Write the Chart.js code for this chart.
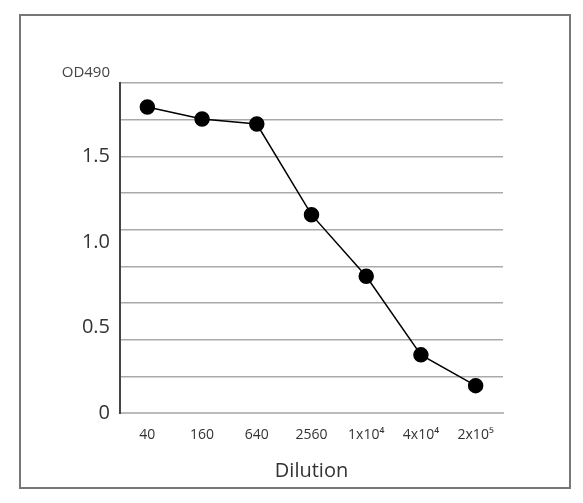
<!DOCTYPE html>
<html><head><meta charset="utf-8">
<script src="https://cdn.jsdelivr.net/npm/chart.js@4"></script>
<style>html,body{margin:0;padding:0;background:#fff}#w{width:583px;height:503px}</style>
</head><body><div id="w"><canvas id="c"></canvas></div>
<script>
const categories = ["40","160","640","2560","1x10⁴","4x10⁴","2x10⁵"];
const odValues = [1.79, 1.72, 1.69, 1.16, 0.80, 0.34, 0.16];
const yTickLabels = [0, 0.5, 1.0, 1.5];
const yMax = 1.93;
const gridCount = 9;

const frame = {
  id: 'frame',
  afterDraw(ch) {
    const c = ch.ctx;
    c.save();
    c.strokeStyle = '#777'; c.lineWidth = 2;
    c.strokeRect(20, 15, 550, 473);
    c.fillStyle = '#444'; c.font = '15px "Open Sans"';
    c.textAlign = 'right'; c.textBaseline = 'middle';
    c.fillText('OD490', 110, 73);
    c.restore();
  }
};

new Chart(document.getElementById('c'), {
  type: 'line',
  data: { labels: categories, datasets: [{
    data: odValues, borderColor: '#000', borderWidth: 1.5,
    pointRadius: 7, pointHoverRadius: 7, pointBackgroundColor: '#000', pointBorderColor: '#000',
    tension: 0
  }]},
  options: {
    responsive: true, maintainAspectRatio: false, animation: false,
    plugins: { legend: { display: false }, tooltip: { enabled: false } },
    layout: { padding: { top: 83, right: 80, left: 0, bottom: 20 } },
    scales: {
      x: {
        offset: true,
        grid: { display: false, drawTicks: false, offset: true },
        border: { color: '#bbb', width: 2 },
        ticks: { color: '#333', font: { family: 'Open Sans', size: 14 }, padding: 14, maxRotation: 0, autoSkip: false },
        title: { display: true, text: 'Dilution', color: '#333', font: { family: 'Open Sans', size: 20 }, padding: { top: 0, bottom: 0 } },
        afterFit(s) { s.height = 70; }
      },
      y: {
        min: 0, max: yMax,
        afterBuildTicks(s) { s.ticks = yTickLabels.map(v => ({ value: v })); },
        grid: { display: false, drawTicks: false },
        border: { color: '#444', width: 2 },
        ticks: { color: '#333', font: { family: 'Open Sans', size: 20 }, padding: 10,
          callback: v => v === 0 ? '0' : v.toFixed(1) },
        afterFit(s) { s.width = 120; }
      },
      y2: {
        position: 'left', min: 0, max: yMax,
        afterBuildTicks(s) { s.ticks = Array.from({ length: gridCount + 1 }, (_, i) => ({ value: yMax * i / gridCount })); },
        grid: { color: '#aaa', lineWidth: 1.5, drawTicks: false },
        border: { display: false },
        ticks: { display: false },
        afterFit(s) { s.width = 0; }
      }
    }
  },
  plugins: [frame]
});
</script></body></html>
